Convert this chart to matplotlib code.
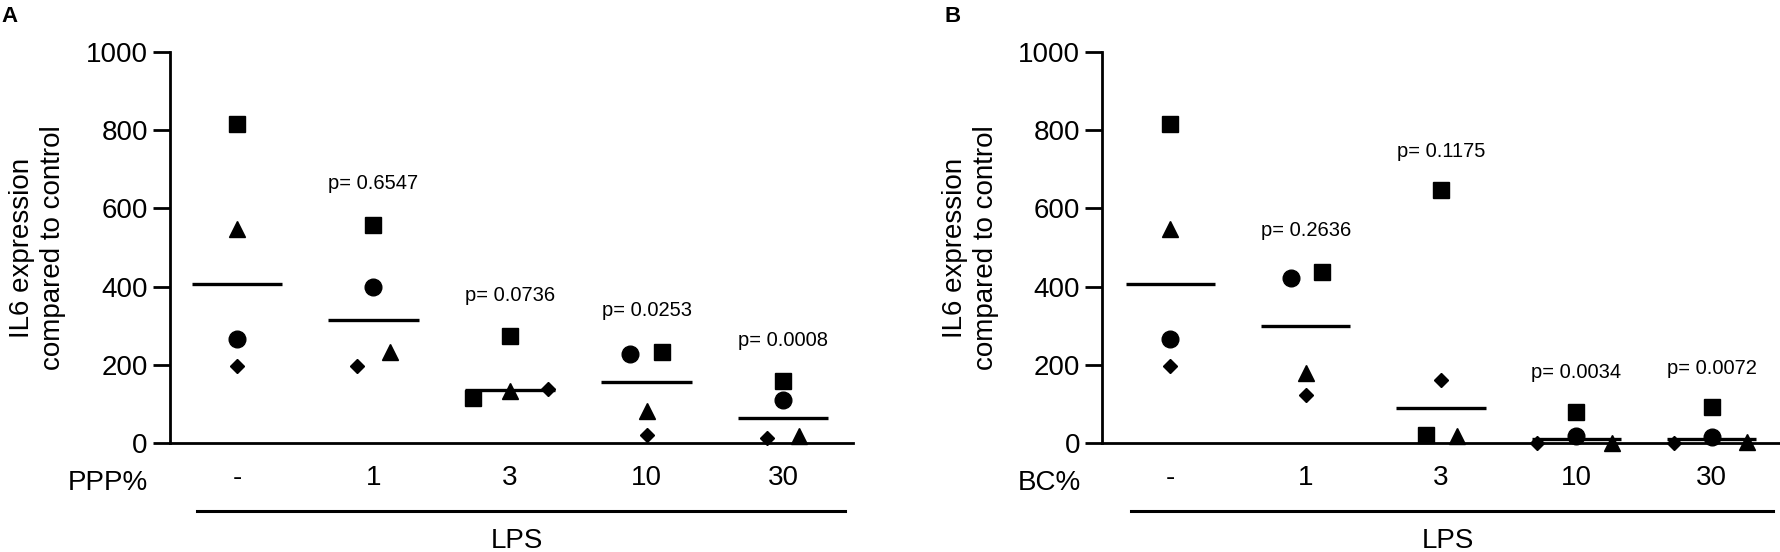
import matplotlib
matplotlib.use("Agg")
import matplotlib.pyplot as plt
import numpy as np

plt.rcParams["font.family"] = ["Liberation Sans", "DejaVu Sans"]

# categories (same for both panels)
groups = ["-", "1", "3", "10", "30"]
ylabel = "IL6 expression\ncompared to control"

# panel A: PPP%
a_values = [[815, 548, 267, 198],
            [558, 399, 198, 232],
            [274, 116, 134, 138],
            [228, 232, 83, 20],
            [159, 110, 12, 17]]
a_pvalues = ["p= 0.6547", "p= 0.0736", "p= 0.0253", "p= 0.0008"]
a_p_y = [663, 377, 338, 262]

# panel B: BC%
b_values = [[815, 548, 267, 198],
            [423, 438, 178, 123],
            [647, 161, 20, 18],
            [80, 17, 0, 1],
            [92, 16, 0, 3]]
b_pvalues = ["p= 0.2636", "p= 0.1175", "p= 0.0034", "p= 0.0072"]
b_p_y = [544, 746, 180, 191]

# marker shapes and horizontal jitter (styling / placement)
a_shapes = [["s", "^", "o", "D"], ["s", "o", "D", "^"], ["s", "s", "^", "D"],
            ["o", "s", "^", "D"], ["s", "o", "D", "^"]]
a_jitter = [[0, 0, 0, 0], [0, 0, -0.12, 0.12], [0, -0.27, 0, 0.28],
            [-0.12, 0.11, 0, 0], [0, 0, -0.12, 0.12]]
b_shapes = [["s", "^", "o", "D"], ["o", "s", "^", "D"], ["s", "D", "s", "^"],
            ["s", "o", "D", "^"], ["s", "o", "D", "^"]]
b_jitter = [[0, 0, 0, 0], [-0.11, 0.12, 0, 0], [0, 0, -0.11, 0.12],
            [0, 0, -0.29, 0.26], [0, 0, -0.28, 0.26]]

msize = {"s": 11.5, "o": 12, "^": 12, "D": 7.5}

fig = plt.figure(figsize=(17.8, 5.52), dpi=100)


def draw(ax, values, shapes, jitter, pvals, p_y, xname, xlim):
    for i, (vals, shp, jit) in enumerate(zip(values, shapes, jitter)):
        for v, m, j in zip(vals, shp, jit):
            ax.plot(i + j, v, marker=m, color="black", markersize=msize[m],
                    linestyle="none", clip_on=False, zorder=3)
        ax.hlines(np.median(vals), i - 0.33, i + 0.33, color="black", lw=2.4, zorder=3)
    for i, (p, y) in enumerate(zip(pvals, p_y)):
        ax.text(i + 1, y, p, ha="center", va="center", fontsize=14.5)

    ax.set_xlim(*xlim)
    ax.set_ylim(0, 1000)
    ax.set_yticks([0, 200, 400, 600, 800, 1000])
    ax.set_xticks(range(len(groups)))
    ax.set_xticklabels(groups, fontsize=20)
    ax.tick_params(axis="y", labelsize=20, length=12, width=2, pad=4)
    ax.tick_params(axis="x", length=0, pad=16)
    for s in ["top", "right"]:
        ax.spines[s].set_visible(False)
    for s in ["left", "bottom"]:
        ax.spines[s].set_linewidth(2)
    ax.set_ylabel(ylabel, fontsize=20, labelpad=14, linespacing=1.25)

    ax.text(-0.032, -0.102, xname, transform=ax.transAxes, ha="right",
            va="center", fontsize=20)
    trans = ax.get_xaxis_transform()
    ax.plot([-0.29, 4.45], [-0.174, -0.174], color="black", lw=2.2,
            transform=trans, clip_on=False)
    ax.text(2.05, -0.25, "LPS", transform=trans, ha="center", va="center",
            fontsize=20)


ax_a = fig.add_axes([170 / 1780, 109 / 552, 682.7 / 1780, 391 / 552])
draw(ax_a, a_values, a_shapes, a_jitter, a_pvalues, a_p_y, "PPP%", (-0.49, 4.51))

ax_b = fig.add_axes([1102.4 / 1780, 109 / 552, 677.6 / 1780, 391 / 552])
draw(ax_b, b_values, b_shapes, b_jitter, b_pvalues, b_p_y, "BC%", (-0.503, 4.505))

fig.text(1 / 1780, 1 - 17 / 552, "A", fontsize=16, fontweight="bold", va="center")
fig.text(944 / 1780, 1 - 17 / 552, "B", fontsize=16, fontweight="bold", va="center")

fig.savefig("out.png", dpi=100)
